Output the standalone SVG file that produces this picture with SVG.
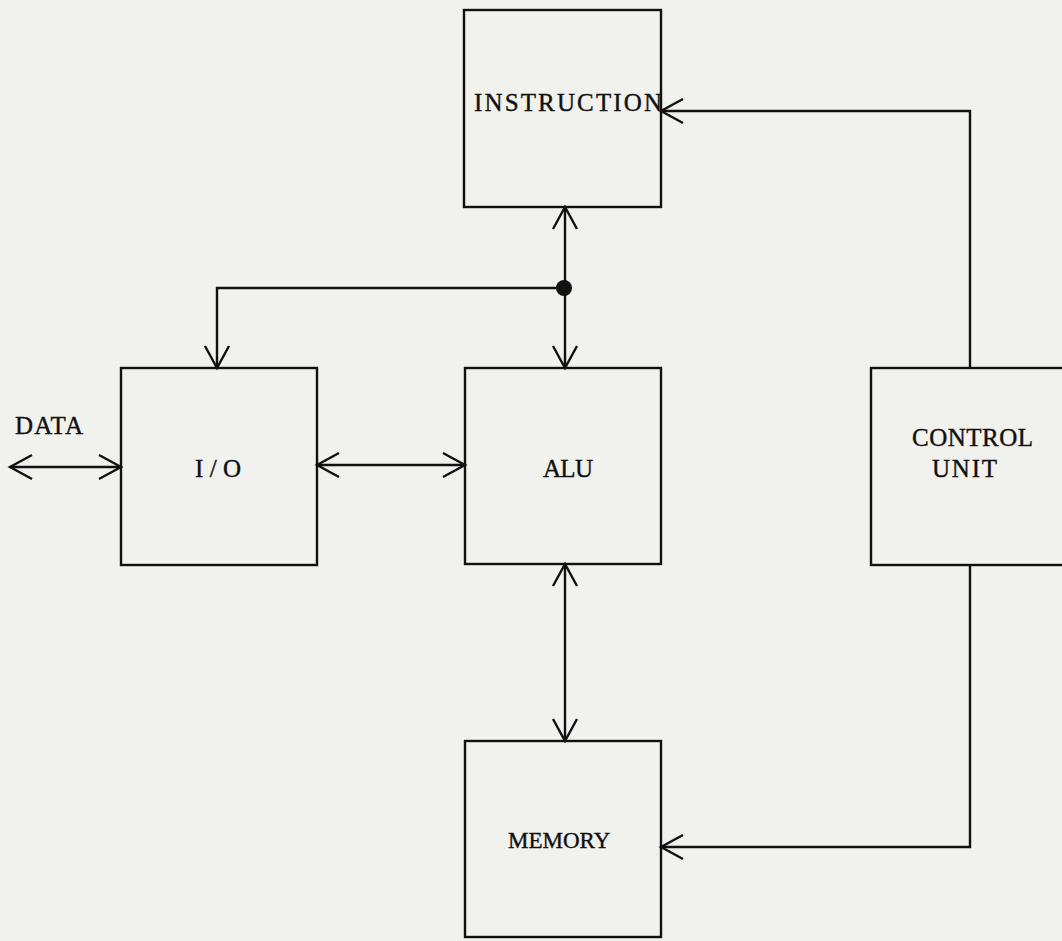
<svg xmlns="http://www.w3.org/2000/svg" width="1062" height="941" viewBox="0 0 1062 941">
  <style>
    .box { fill: none; stroke: #111; stroke-width: 2.4; }
    .lbl { font-family: "Liberation Serif", "Times New Roman", serif; font-size: 25px; fill: #111; stroke: #111; stroke-width: 0.4; }
    .wire { fill: none; stroke: #111; stroke-width: 2.4; }
  </style>
  <defs>
    <marker id="arr" viewBox="-24 -14 28 28" refX="0" refY="0" markerWidth="28" markerHeight="28" markerUnits="userSpaceOnUse" orient="auto-start-reverse">
      <path d="M -22 -12 L 0 0 L -22 12" fill="none" stroke="#111" stroke-width="2.4"/>
    </marker>
  </defs>
  <rect width="1062" height="941" fill="#f1f1ed"/>

  <g id="instruction">
    <rect class="box" x="464" y="10" width="197" height="197"/>
    <text class="lbl" x="474" y="111" textLength="188" lengthAdjust="spacing">INSTRUCTION</text>
  </g>
  <g id="io">
    <rect class="box" x="121" y="368" width="196" height="197"/>
    <text class="lbl" x="195" y="477" textLength="46" lengthAdjust="spacing">I/O</text>
  </g>
  <g id="alu">
    <rect class="box" x="465" y="368" width="196" height="196"/>
    <text class="lbl" x="543" y="477" textLength="50" lengthAdjust="spacing">ALU</text>
  </g>
  <g id="memory">
    <rect class="box" x="465" y="741" width="196" height="196"/>
    <text class="lbl" x="508" y="848" style="font-size:23px">MEMORY</text>
  </g>
  <g id="control">
    <rect class="box" x="871" y="368" width="200" height="197"/>
    <text class="lbl" x="912" y="446" textLength="121" lengthAdjust="spacing">CONTROL</text>
    <text class="lbl" x="932" y="477" textLength="65" lengthAdjust="spacing">UNIT</text>
  </g>
  <g id="data-label">
    <text class="lbl" x="15" y="434" textLength="68" lengthAdjust="spacing">DATA</text>
  </g>

  <g id="connectors">
    <line class="wire" x1="10" y1="467" x2="121" y2="467" marker-start="url(#arr)" marker-end="url(#arr)"/>
    <line class="wire" x1="317" y1="465" x2="465" y2="465" marker-start="url(#arr)" marker-end="url(#arr)"/>
    <line class="wire" x1="565" y1="207" x2="565" y2="368" marker-start="url(#arr)" marker-end="url(#arr)"/>
    <polyline class="wire" points="565,288 217,288 217,368" marker-end="url(#arr)"/>
    <circle cx="564" cy="288" r="8" fill="#111"/>
    <polyline class="wire" points="970,368 970,111 661,111" marker-end="url(#arr)"/>
    <polyline class="wire" points="970,565 970,847 661,847" marker-end="url(#arr)"/>
    <line class="wire" x1="565" y1="564" x2="565" y2="741" marker-start="url(#arr)" marker-end="url(#arr)"/>
  </g>
</svg>
